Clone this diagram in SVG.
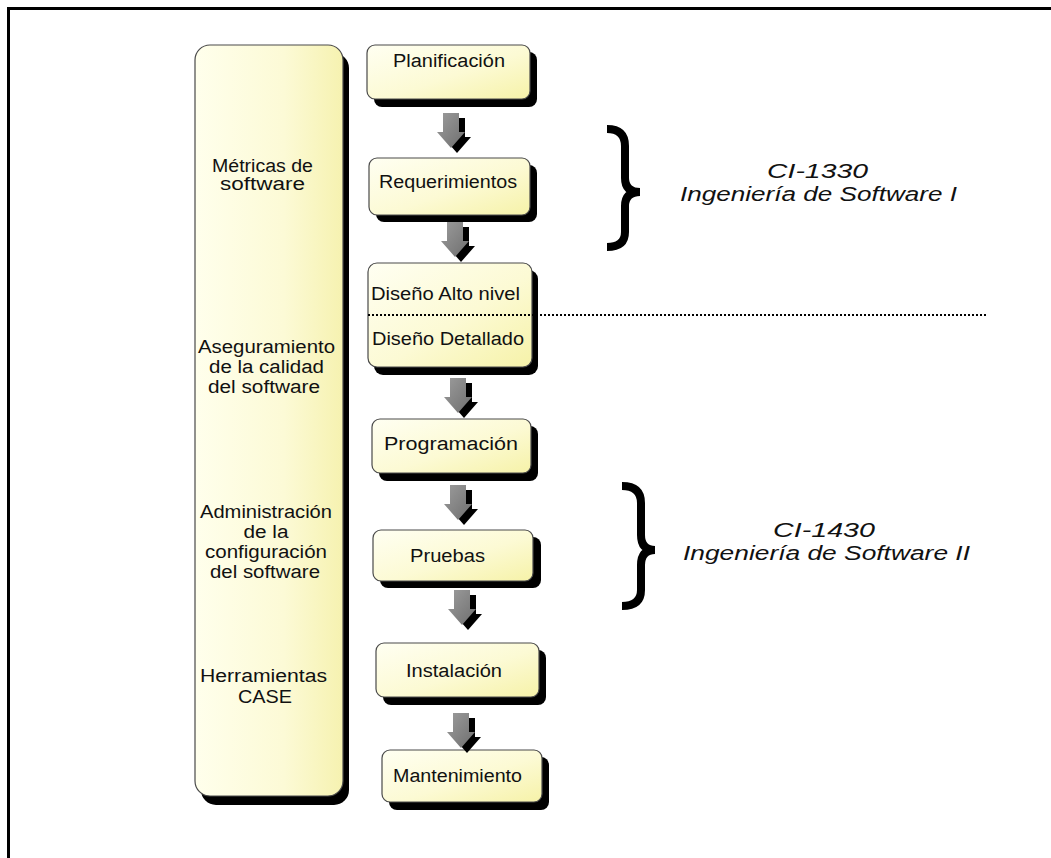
<svg xmlns="http://www.w3.org/2000/svg" width="1051" height="858" viewBox="0 0 1051 858">
<defs>
<linearGradient id="yel" x1="0" y1="0" x2="1" y2="1">
<stop offset="0" stop-color="#FFFFF2"/>
<stop offset="0.55" stop-color="#FCFAD4"/>
<stop offset="1" stop-color="#F6F2A8"/>
</linearGradient>
<linearGradient id="yel2" x1="0" y1="0" x2="1" y2="0">
<stop offset="0" stop-color="#FFFFEC"/>
<stop offset="0.6" stop-color="#FCFAD6"/>
<stop offset="1" stop-color="#F6F2B0"/>
</linearGradient>
<linearGradient id="gray" x1="0" y1="0" x2="1" y2="1">
<stop offset="0" stop-color="#9C9C9C"/>
<stop offset="1" stop-color="#6E6E6E"/>
</linearGradient>
<path id="arr" d="M-8,0 H8 V19 H14 L0,35 L-14,19 H-8 Z"/>
</defs>
<style>
.box{fill:url(#yel);stroke:#4a4a4a;stroke-width:1.2}
.sh{fill:#000}
.t{font-family:"Liberation Sans",Arial,sans-serif;font-size:18px;fill:#111;text-anchor:middle}
.ci{font-family:"Liberation Sans",Arial,sans-serif;font-size:20px;font-style:italic;fill:#111;text-anchor:middle}
.brace{fill:none;stroke:#000;stroke-width:8}
</style>
<rect width="1051" height="858" fill="#fff"/>
<path d="M8.5,870 V8.5 H1060" fill="none" stroke="#000" stroke-width="3"/>

<g id="side">
<rect class="sh" x="201" y="53" width="148" height="752" rx="15"/>
<rect class="box" x="195" y="45" width="148" height="751" rx="15" style="fill:url(#yel2)"/>
<text class="t" x="262.5" y="172"><tspan x="262.5" textLength="101" lengthAdjust="spacingAndGlyphs">Métricas de</tspan><tspan x="262.5" y="190" textLength="85" lengthAdjust="spacingAndGlyphs">software</tspan></text>
<text class="t" x="266" y="353"><tspan x="266.5" textLength="137" lengthAdjust="spacingAndGlyphs">Aseguramiento</tspan><tspan x="266.5" y="373" textLength="115" lengthAdjust="spacingAndGlyphs">de la calidad</tspan><tspan x="264" y="393" textLength="112" lengthAdjust="spacingAndGlyphs">del software</tspan></text>
<text class="t" y="518"><tspan x="266" textLength="132" lengthAdjust="spacingAndGlyphs">Administración</tspan><tspan x="266" y="538" textLength="45" lengthAdjust="spacingAndGlyphs">de la</tspan><tspan x="266" y="558" textLength="122" lengthAdjust="spacingAndGlyphs">configuración</tspan><tspan x="265" y="578" textLength="110" lengthAdjust="spacingAndGlyphs">del software</tspan></text>
<text class="t" y="682"><tspan x="263.5" textLength="127" lengthAdjust="spacingAndGlyphs">Herramientas</tspan><tspan x="265" y="703" textLength="54" lengthAdjust="spacingAndGlyphs">CASE</tspan></text>
</g>

<g id="planificacion">
<rect class="sh" x="374" y="52" width="163" height="55" rx="8"/>
<rect class="box" x="367" y="45" width="163" height="54" rx="8"/>
<text class="t" x="449" y="67" textLength="112" lengthAdjust="spacingAndGlyphs">Planificación</text>
</g>
<g id="requerimientos">
<rect class="sh" x="376" y="165" width="161" height="57" rx="8"/>
<rect class="box" x="369" y="158" width="161" height="57" rx="8"/>
<text class="t" x="448" y="188" textLength="138" lengthAdjust="spacingAndGlyphs">Requerimientos</text>
</g>
<g id="diseno">
<rect class="sh" x="374" y="270" width="164" height="105" rx="9"/>
<rect class="box" x="368" y="263" width="164" height="104" rx="9"/>
<text class="t" x="445.5" y="300" textLength="149" lengthAdjust="spacingAndGlyphs">Diseño Alto nivel</text>
<text class="t" x="448" y="345" textLength="152" lengthAdjust="spacingAndGlyphs">Diseño Detallado</text>
</g>
<g id="programacion">
<rect class="sh" x="379" y="426" width="159" height="55" rx="8"/>
<rect class="box" x="372" y="419" width="159" height="54" rx="8"/>
<text class="t" x="451" y="450" textLength="134" lengthAdjust="spacingAndGlyphs">Programación</text>
</g>
<g id="pruebas">
<rect class="sh" x="380" y="537" width="161" height="51" rx="8"/>
<rect class="box" x="373" y="530" width="160" height="51" rx="8"/>
<text class="t" x="447.5" y="562" textLength="75" lengthAdjust="spacingAndGlyphs">Pruebas</text>
</g>
<g id="instalacion">
<rect class="sh" x="383" y="650" width="163" height="55" rx="8"/>
<rect class="box" x="376" y="643" width="163" height="54" rx="8"/>
<text class="t" x="454" y="677" textLength="96" lengthAdjust="spacingAndGlyphs">Instalación</text>
</g>
<g id="mantenimiento">
<rect class="sh" x="389" y="757" width="160" height="53" rx="8"/>
<rect class="box" x="382" y="750" width="160" height="52" rx="8"/>
<text class="t" x="457.5" y="782" textLength="129" lengthAdjust="spacingAndGlyphs">Mantenimiento</text>
</g>

<g id="connectors">
<use href="#arr" x="457" y="118" class="sh"/>
<use href="#arr" x="451" y="113" fill="url(#gray)"/>
<use href="#arr" x="461" y="227" class="sh"/>
<use href="#arr" x="455" y="222" fill="url(#gray)"/>
<use href="#arr" x="464" y="383" class="sh"/>
<use href="#arr" x="458" y="378" fill="url(#gray)"/>
<use href="#arr" x="464" y="490" class="sh"/>
<use href="#arr" x="458" y="485" fill="url(#gray)"/>
<use href="#arr" x="468" y="595" class="sh"/>
<use href="#arr" x="462" y="590" fill="url(#gray)"/>
<use href="#arr" x="467" y="718" class="sh"/>
<use href="#arr" x="461" y="713" fill="url(#gray)"/>
<line x1="368" y1="315" x2="987" y2="315" stroke="#000" stroke-width="1.8" stroke-dasharray="2,2"/>
</g>

<g id="group1">
<path class="brace" d="M607,129 Q625,129 625,146 L625,178 Q625,192 640,192 Q625,192 625,206 L625,232 Q625,247 607,247"/>
<text class="ci"><tspan x="817.5" y="178" textLength="101" lengthAdjust="spacingAndGlyphs">CI-1330</tspan><tspan x="818.5" y="201" textLength="277" lengthAdjust="spacingAndGlyphs">Ingeniería de Software I</tspan></text>
</g>
<g id="group2">
<path class="brace" d="M622,486 Q641,486 641,503 L641,535 Q641,550 655,550 Q641,550 641,565 L641,590 Q641,606 622,606"/>
<text class="ci"><tspan x="824" y="537" textLength="102" lengthAdjust="spacingAndGlyphs">CI-1430</tspan><tspan x="826.5" y="560" textLength="287" lengthAdjust="spacingAndGlyphs">Ingeniería de Software II</tspan></text>
</g>
</svg>
